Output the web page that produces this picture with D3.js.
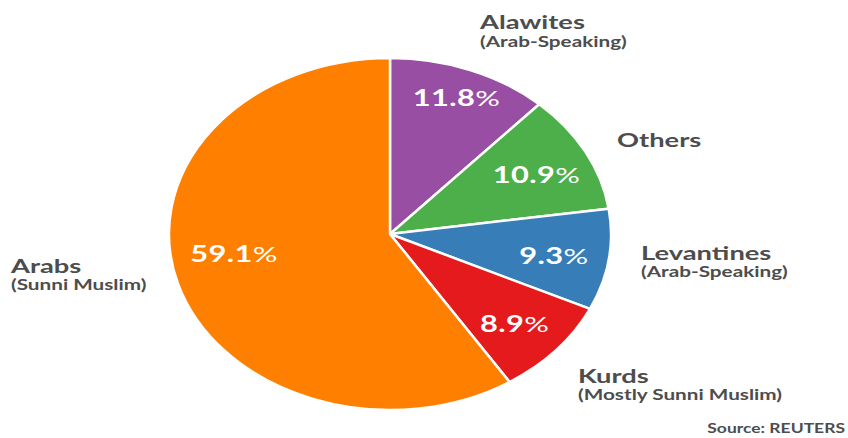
<!DOCTYPE html>
<html><head><meta charset="utf-8">
<script src="https://cdn.jsdelivr.net/npm/d3@7"></script>
<style>body{margin:0;background:#fff}svg{display:block}</style></head><body>
<svg id="c" width="848" height="438"></svg>
<script>
const categories = ["Alawites", "Others", "Levantines", "Kurds", "Arabs"];
const subtitles = ["(Arab-Speaking)", "", "(Arab-Speaking)", "(Mostly Sunni Muslim)", "(Sunni Muslim)"];
const values = [11.8, 10.9, 9.3, 8.9, 59.1];
const colors = ["#984ea3", "#4daf4a", "#377eb8", "#e41a1c", "#ff7f00"];
const sourceText = "Source: REUTERS";

const svg = d3.select("#c");
const cx = 390, cy = 234, R = 176, sx = 221 / 176, stretch = 1.4;
const data = categories.map((c, i) => ({cat: c, sub: subtitles[i], value: values[i], color: colors[i]}));
const pie = d3.pie().sort(null).value(d => d.value);
const arcs = pie(data);
const arc = d3.arc().innerRadius(0).outerRadius(R);

const g = svg.append("g").attr("transform", `translate(${cx},${cy}) scale(${sx},1)`);
g.selectAll("path").data(arcs).join("path")
  .attr("d", arc)
  .attr("fill", d => d.data.color)
  .attr("stroke", "#fff")
  .attr("stroke-width", 2.5)
  .attr("vector-effect", "non-scaling-stroke");

// percentage labels: placed along each slice's bisector (small nudges for the largest/first slice)
const labelTweak = {"Alawites": {r: 0.83, da: 0}, "Arabs": {r: 0.714, da: 0.13}};
arcs.forEach(a => {
  const tw = labelTweak[a.data.cat] || {r: 0.75, da: 0};
  const ang = (a.startAngle + a.endAngle) / 2 + tw.da;
  const rr = R * tw.r;
  const px = cx + Math.sin(ang) * rr * sx;
  const py = cy - Math.cos(ang) * rr + (labelTweak[a.data.cat] ? 0 : 3);
  const t = svg.append("text")
    .attr("transform", `translate(${px},${py + 8}) scale(${stretch},1)`)
    .attr("text-anchor", "middle")
    .attr("font-family", "Lato, 'Open Sans', sans-serif")
    .attr("font-size", 22)
    .attr("fill", "#fff")
    .attr("letter-spacing", 0.3);
  t.append("tspan").attr("font-weight", 700).text(d3.format(".1f")(a.data.value));
  t.append("tspan").attr("font-weight", 400).text("%");
});

// category annotations
const annot = {
  "Alawites": [480, 29, 47],
  "Others": [617, 147, null],
  "Levantines": [641, 260, 277],
  "Kurds": [578, 383, 400],
  "Arabs": [11, 273, 290]
};
data.forEach(d => {
  const [x, y1, y2] = annot[d.cat];
  svg.append("text")
    .attr("transform", `translate(${x},${y1}) scale(${stretch},1)`)
    .attr("font-family", "Lato, sans-serif").attr("font-weight", 700)
    .attr("font-size", 19.5).attr("fill", "#4d4d4d").text(d.cat);
  if (d.sub) svg.append("text")
    .attr("transform", `translate(${x},${y2}) scale(${stretch},1)`)
    .attr("font-family", "Lato, sans-serif").attr("font-weight", 700)
    .attr("font-size", 14.8).attr("fill", "#4d4d4d").text(d.sub);
});

svg.append("text")
  .attr("transform", `translate(845,433) scale(${stretch},1)`)
  .attr("text-anchor", "end")
  .attr("font-family", "Lato, sans-serif").attr("font-weight", 700)
  .attr("font-size", 12.5).attr("fill", "#4d4d4d").text(sourceText);
</script>
</body></html>
